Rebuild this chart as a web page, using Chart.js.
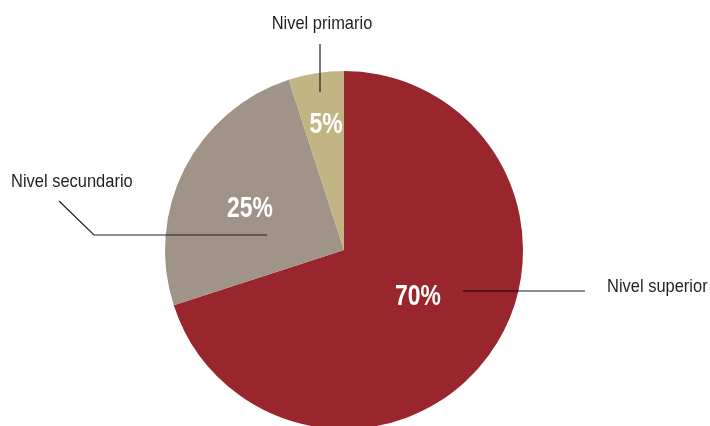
<!DOCTYPE html>
<html>
<head>
<meta charset="utf-8">
<script src="https://cdn.jsdelivr.net/npm/chart.js@4.4.1/dist/chart.umd.min.js"></script>
<style>
    html, body { margin: 0; padding: 0; background: #fff; overflow: hidden; }
    #wrap { width: 710px; height: 426px; position: relative; }
</style>
</head>
<body>
<div id="wrap"><canvas id="pieChart" width="710" height="426"></canvas></div>
<script>
// Data
const categories = ['Nivel superior', 'Nivel secundario', 'Nivel primario'];
const shares = [70, 25, 5];
const sliceColors = ['#98262c', '#a09387', '#c3b583'];

// no condensed face installed, so squeeze Liberation Sans horizontally
const FONT = '"Liberation Sans", Arial, sans-serif';
const PCT_SQUEEZE = 0.79;
const NAME_SQUEEZE = 0.89;

// where the percent text sits, relative to the pie centre (px)
const pctOffsets = [[74, 55], [-94, -33], [-18, -117]];

// callouts: leader line points relative to pie centre, then label anchor
const callouts = [
    { line: [[119, 41], [241, 41]], color: 'rgba(0,0,0,0.6)', width: 1.4, text: [263, 41.5], align: 'left' },
    { line: [[-77, -15], [-250, -15], [-285, -49]], color: '#222', width: 1.2, text: [-333, -63], align: 'left' },
    { line: [[-24, -158], [-24, -206]], color: '#222', width: 1.2, text: [-22, -221], align: 'center' }
];

function squeezedText(ctx, text, x, y, sx) {
    ctx.save();
    ctx.translate(x, y);
    ctx.scale(sx, 1);
    ctx.fillText(text, 0, 0);
    ctx.restore();
}

const pieLabels = {
    id: 'pieLabels',
    afterDatasetsDraw(chart) {
        const ctx = chart.ctx;
        const arcs = chart.getDatasetMeta(0).data;
        if (!arcs.length) return;
        const cx = arcs[0].x;
        const cy = arcs[0].y;
        const total = shares.reduce((a, b) => a + b, 0);

        ctx.save();
        // percent labels inside slices
        ctx.fillStyle = '#fff';
        ctx.font = 'bold 29px ' + FONT;
        ctx.textAlign = 'center';
        ctx.textBaseline = 'alphabetic';
        arcs.forEach((arc, i) => {
            const pct = Math.round(shares[i] / total * 100) + '%';
            squeezedText(ctx, pct, cx + pctOffsets[i][0], cy + pctOffsets[i][1], PCT_SQUEEZE);
        });

        // leader lines and category names
        ctx.font = '18.5px ' + FONT;
        ctx.fillStyle = '#231f20';
        callouts.forEach((c, i) => {
            ctx.strokeStyle = c.color;
            ctx.lineWidth = c.width;
            ctx.beginPath();
            c.line.forEach((p, j) => {
                if (j === 0) ctx.moveTo(cx + p[0], cy + p[1]);
                else ctx.lineTo(cx + p[0], cy + p[1]);
            });
            ctx.stroke();
            ctx.textAlign = c.align;
            squeezedText(ctx, categories[i], cx + c.text[0], cy + c.text[1], NAME_SQUEEZE);
        });
        ctx.restore();
    }
};

const ctx = document.getElementById('pieChart').getContext('2d');
const chart = new Chart(ctx, {
    type: 'pie',
    data: {
        labels: categories,
        datasets: [{
            data: shares,
            backgroundColor: sliceColors,
            borderWidth: 0
        }]
    },
    options: {
        responsive: false,
        animation: false,
        radius: 179,
        layout: {
            padding: { top: 74, bottom: 0, left: 0, right: 22 }
        },
        plugins: {
            legend: { display: false },
            tooltip: { enabled: false }
        }
    },
    plugins: [pieLabels]
});
</script>
</body>
</html>
